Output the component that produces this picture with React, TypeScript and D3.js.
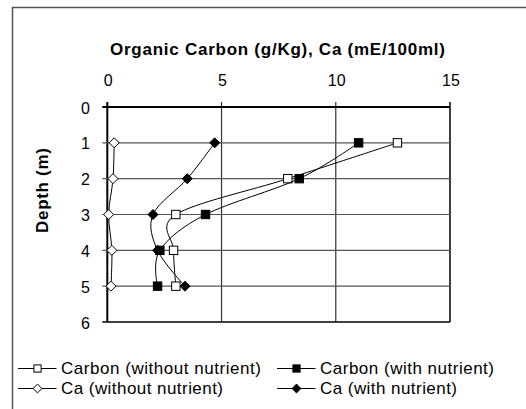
import React from "react";
import * as d3 from "d3";

const depths = [1, 2, 3, 4, 5];
const carbonWithout = [12.7, 7.9, 3.0, 2.9, 3.0];
const carbonWith = [11.0, 8.4, 4.3, 2.3, 2.2];
const caWithout = [0.3, 0.25, 0.06, 0.2, 0.16];
const caWith = [4.7, 3.5, 2.0, 2.2, 3.4];
const xTicks = [0, 5, 10, 15];
const yTicks = [0, 1, 2, 3, 4, 5, 6];

type Marker = "sqOpen" | "sqFill" | "diaOpen" | "diaFill";
const seriesList: { name: string; values: number[]; marker: Marker; textW: number }[] = [
  { name: "Carbon (without nutrient)", values: carbonWithout, marker: "sqOpen", textW: 200 },
  { name: "Carbon (with nutrient)", values: carbonWith, marker: "sqFill", textW: 174 },
  { name: "Ca (without nutrient)", values: caWithout, marker: "diaOpen", textW: 162 },
  { name: "Ca (with nutrient)", values: caWith, marker: "diaFill", textW: 137 },
];

const FONT = "'Liberation Sans', Arial, sans-serif";

function MarkerShape({ type, x, y, small }: { type: Marker; x: number; y: number; small?: boolean }) {
  const s = small ? 3.6 : 4.2;
  if (type === "sqOpen" || type === "sqFill") {
    return (
      <rect
        x={x - s}
        y={y - s}
        width={2 * s}
        height={2 * s}
        fill={type === "sqFill" ? "#000" : "#fff"}
        stroke="#000"
        strokeWidth={1}
      />
    );
  }
  const d = s + 0.8;
  return (
    <path
      d={`M${x},${y - d}L${x + d},${y}L${x},${y + d}L${x - d},${y}Z`}
      fill={type === "diaFill" ? "#000" : "#fff"}
      stroke="#000"
      strokeWidth={1}
    />
  );
}

export default function App() {
  const x = d3.scaleLinear().domain([0, 15]).range([107.3, 450]);
  const y = d3.scaleLinear().domain([0, 6]).range([107, 322]);
  const line = d3
    .line<[number, number]>()
    .x((d) => x(d[0]))
    .y((d) => y(d[1]))
    .curve(d3.curveCatmullRom.alpha(0));

  const legendPos = [
    { lx: 18, ly: 368.5 },
    { lx: 277, ly: 368.5 },
    { lx: 18, ly: 388.5 },
    { lx: 277, ly: 388.5 },
  ];

  return (
    <svg
      width={526}
      height={409}
      style={{ position: "absolute", left: 0, top: 0, background: "#fff" }}
      fontFamily={FONT}
    >
      <rect x={0} y={0} width={526} height={409} fill="#fff" />
      <path d="M12.5,420V7.5H540" fill="none" stroke="#555" strokeWidth={1.5} />
      <text x={110} y={55} fontSize={17} fontWeight="bold" textLength={335} lengthAdjust="spacing">
        Organic Carbon (g/Kg), Ca (mE/100ml)
      </text>
      {xTicks.map((t) => (
        <g key={"xt" + t}>
          <line x1={x(t)} x2={x(t)} y1={y(0) - 5} y2={y(6)} stroke={t === 0 || t === 15 ? "#000" : "#333"} strokeWidth={t === 0 ? 2 : t === 15 ? 1.5 : 1.2} />
          <text x={x(t) + 1} y={86} textAnchor="middle" fontSize={16}>
            {t}
          </text>
        </g>
      ))}
      {yTicks.map((t) => (
        <g key={"yt" + t}>
          <line x1={x(0) - 5} x2={x(15)} y1={y(t)} y2={y(t)} stroke={t === 0 || t === 6 ? "#000" : "#555"} strokeWidth={t === 0 ? 2 : t === 6 ? 1.5 : 1.2} />
          <text x={90} y={y(t) + 6.5} textAnchor="end" fontSize={16}>
            {t}
          </text>
        </g>
      ))}
      <text
        transform={`translate(48,233) rotate(-90)`}
        fontSize={17}
        fontWeight="bold"
        textLength={85}
        lengthAdjust="spacing"
      >
        Depth (m)
      </text>
      {seriesList.map((s) => {
        const pts = s.values.map((v, i) => [v, depths[i]] as [number, number]);
        return (
          <g key={s.name}>
            <path d={line(pts) || ""} fill="none" stroke="#000" strokeWidth={1} />
            {pts.map((p, i) => (
              <MarkerShape key={i} type={s.marker} x={x(p[0])} y={y(p[1])} />
            ))}
          </g>
        );
      })}
      {seriesList.map((s, i) => {
        const { lx, ly } = legendPos[i];
        return (
          <g key={"lg" + s.name}>
            <line x1={lx} x2={lx + 38.5} y1={ly} y2={ly} stroke="#000" strokeWidth={1} />
            <MarkerShape type={s.marker} x={lx + 19.5} y={ly} small />
            <text x={lx + 43} y={ly + 5.5} fontSize={17} textLength={s.textW} lengthAdjust="spacing">
              {s.name}
            </text>
          </g>
        );
      })}
    </svg>
  );
}
